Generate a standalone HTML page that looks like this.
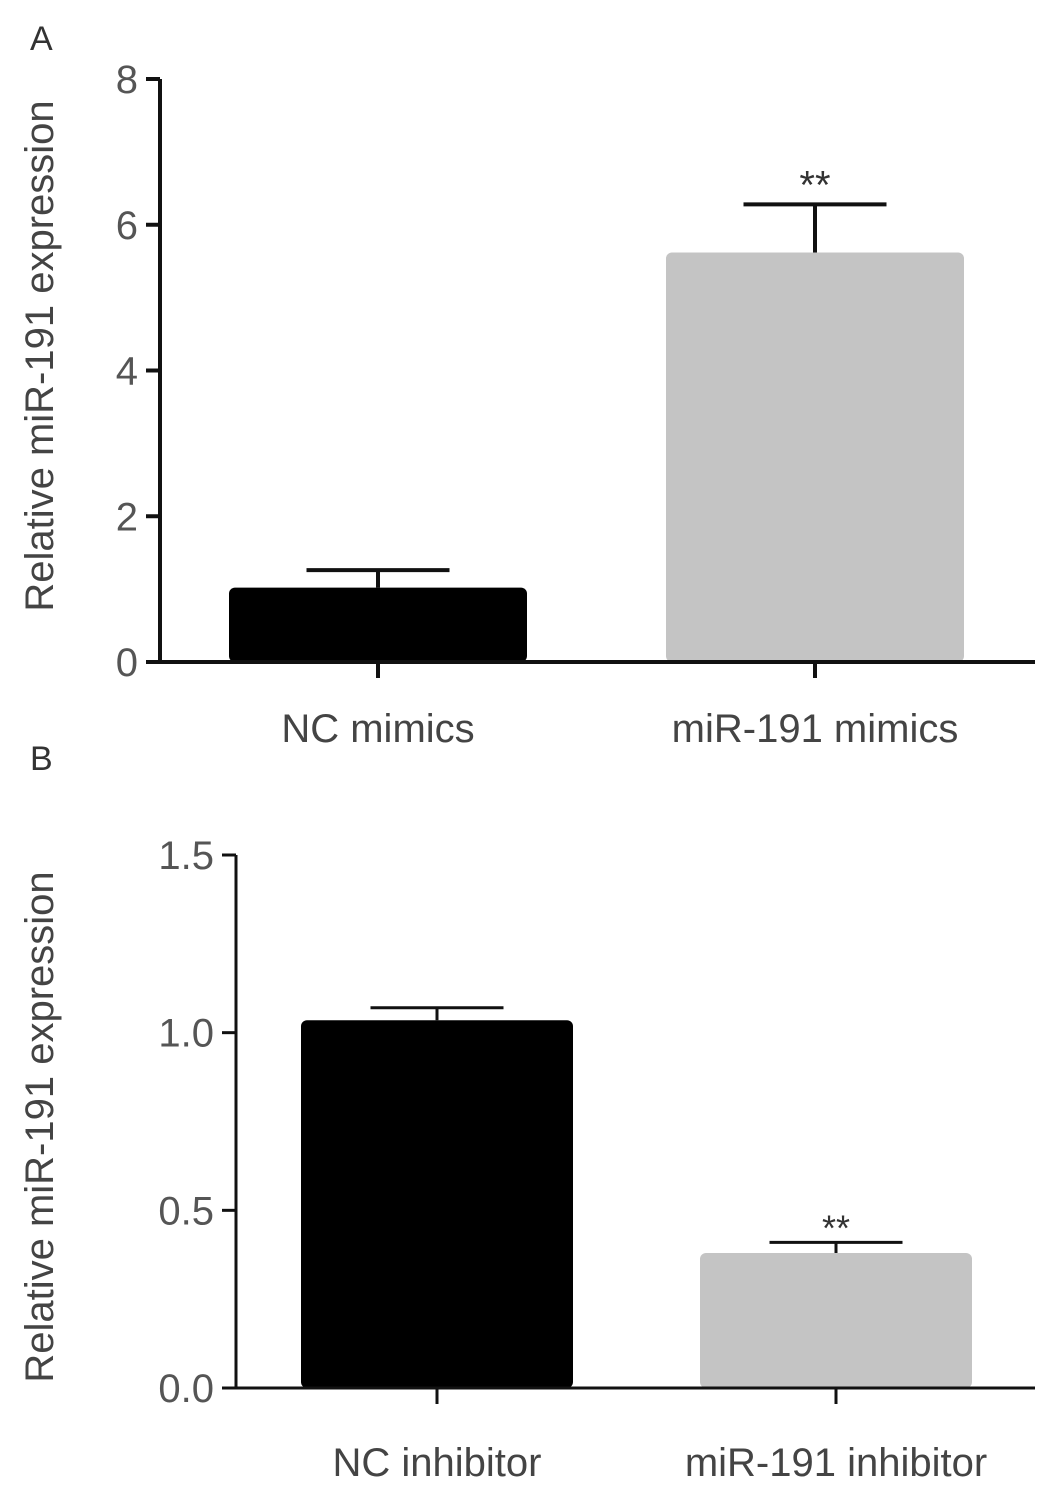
<!DOCTYPE html>
<html><head><meta charset="utf-8"><style>
body{margin:0;background:#fff}
svg{display:block;font-family:"Liberation Sans",sans-serif}
</style></head><body>
<svg id="c" width="1063" height="1504" viewBox="0 0 1063 1504">
<text x="30" y="50" font-size="34" fill="#333">A</text>
<text x="30" y="770" font-size="34" fill="#333">B</text>
<text transform="translate(53,356) rotate(-90)" text-anchor="middle" font-size="40" fill="#444">Relative miR-191 expression</text>
<text transform="translate(53,1127) rotate(-90)" text-anchor="middle" font-size="40" fill="#444">Relative miR-191 expression</text>
</svg>
<script>
const catsA=["NC mimics","miR-191 mimics"];
const valsA=[1.02,5.62];
const errA=[1.26,6.28];
const ticksA=[0,2,4,6,8];
const sigA=["","**"];
const catsB=["NC inhibitor","miR-191 inhibitor"];
const valsB=[1.035,0.38];
const errB=[1.07,0.41];
const ticksB=[0,0.5,1.0,1.5];
const tickLabelsB=["0.0","0.5","1.0","1.5"];
const sigB=["","**"];
const svg=document.getElementById('c');const NS="http://www.w3.org/2000/svg";
function mk(t,a,p){const e=document.createElementNS(NS,t);for(const k in a)e.setAttribute(k,a[k]);(p||svg).appendChild(e);return e;}
function panel(o){
 const y=v=>o.y0-(v-o.vmin)/(o.vmax-o.vmin)*(o.y0-o.y1);
 const g=mk('g',{});
 
 
 o.cats.forEach((c,i)=>{
  const cx=o.cx[i];
  const b=mk('rect',{x:cx-o.bw/2,y:y(o.vals[i]),width:o.bw,height:o.y0-y(o.vals[i]),rx:6,fill:o.colors[i]},g);
  
  
  const e=mk('path',{d:`M${cx},${y(o.vals[i])}V${y(o.err[i])}M${cx-o.cw/2},${y(o.err[i])}H${cx+o.cw/2}`,stroke:'#111','stroke-width':o.lw,fill:'none'},g);
  
  
  if(o.sig[i]){const s=mk('text',{x:cx,y:y(o.err[i])-o.sigOff,'text-anchor':'middle','font-size':o.sigFs,fill:'#333'},g);s.textContent=o.sig[i];
   
   }
  mk('line',{x1:cx,x2:cx,y1:o.y0,y2:o.y0+16,stroke:'#111','stroke-width':o.lw},g);
  const l=mk('text',{x:cx,y:o.labY,'text-anchor':'middle','font-size':40,fill:'#444'},g);l.textContent=c;
  
  
 });
 const ax=mk('path',{d:`M${o.ax},${o.y1}V${o.y0}M${o.ax-14},${o.y0}H1035`,stroke:'#111','stroke-width':o.lw,fill:'none'},g);
 
 
 o.ticks.forEach((t,i)=>{
  mk('line',{x1:o.ax-14,x2:o.ax,y1:y(t),y2:y(t),stroke:'#111','stroke-width':o.lw},g);
  const tl=mk('text',{x:o.ax-22,y:y(t)+14,'text-anchor':'end','font-size':40,fill:'#555'},g);tl.textContent=o.tl[i];
  
  
 });
}
panel({name:'panel-a',cats:catsA,vals:valsA,err:errA,sig:sigA,ticks:ticksA,tl:ticksA.map(String),vmin:0,vmax:8,y0:662,y1:79,ax:160,cx:[378,815],bw:298,cw:143,lw:4,colors:['#000','#c4c4c4'],labY:742,sigOff:6,sigFs:40});
panel({name:'panel-b',cats:catsB,vals:valsB,err:errB,sig:sigB,ticks:ticksB,tl:tickLabelsB,vmin:0,vmax:1.5,y0:1388,y1:855,ax:236,cx:[437,836],bw:272,cw:133,lw:3,colors:['#000','#c4c4c4'],labY:1476,sigOff:2,sigFs:36});
</script>
</body></html>
